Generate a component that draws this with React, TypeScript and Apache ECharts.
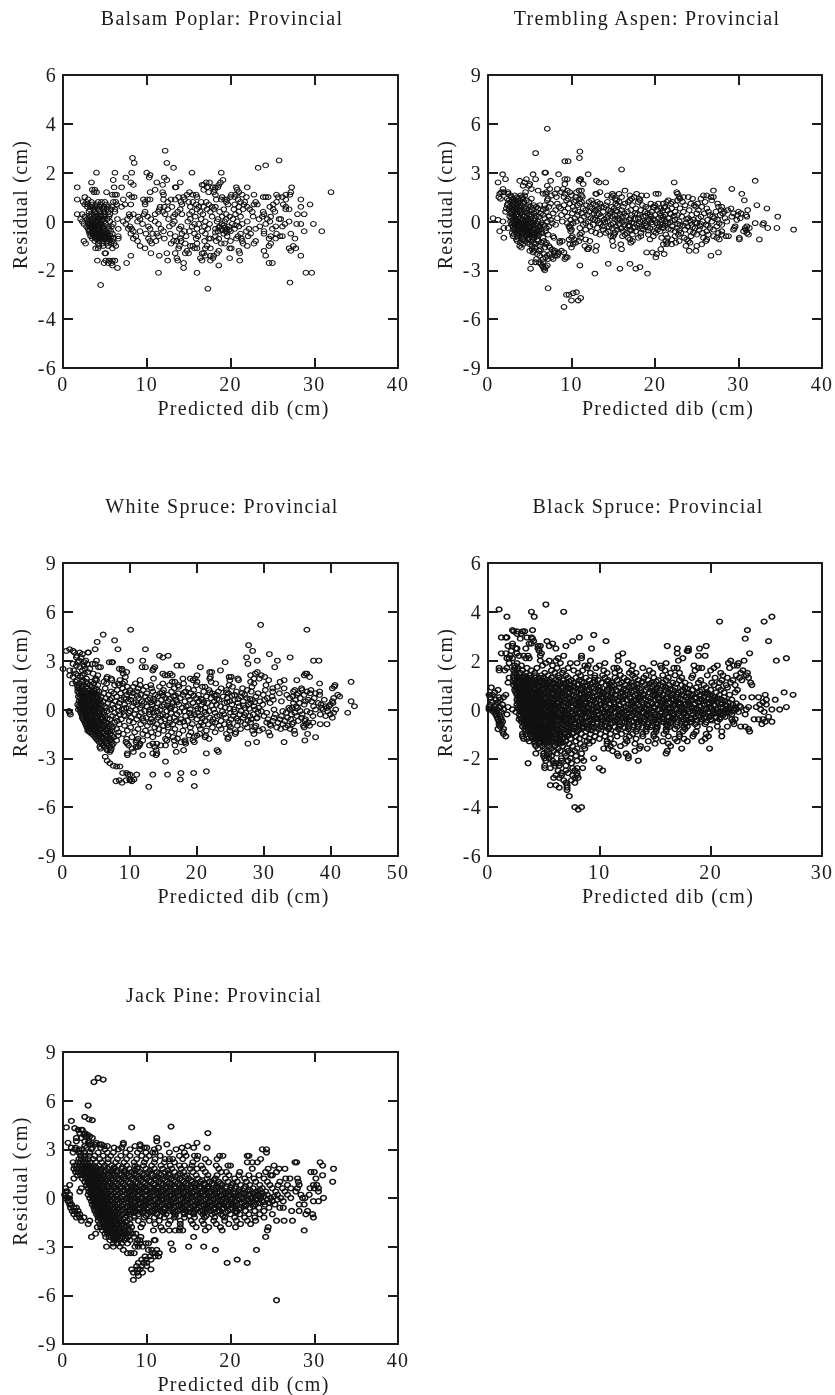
import React, { useEffect, useRef } from "react";
import * as echarts from "echarts";

// Each row: [residual, predicted dib, predicted dib, ...]
const balsamPoplarRows = [
[2.9,12.2],[2.6,8.3],[2.5,25.8],[2.4,8.5,12.4],[2.3,24.2],[2.2,13.2,23.3],
[2,4,6.2,8.2,10,15.4,18.9],[1.9,10.4],[1.8,7.5,10.3,12.1],[1.7,12.4,19.1,6],
[1.6,3.4,8.1,11.2,14,17.1,17.5,18.8],[1.5,11.9,16.8,18.6,16.6,8.4],
[1.4,1.7,6.1,7,13.4,17.2,17.9,18.2,22,20.7,27.3,18.5,13.5],[1.3,3.5,11,16.8,20.8,3.8,18.1],
[1.2,3.7,4,5.2,10.4,15.1,17.4,18,21,27.2,11.9,32],[1.1,5.9,6.2,6.4,7.9,12,14.8,15.5,15.9,18.2,20.1,20.6,21.4,22.8,26.6,25.5,27.1],
[1,2.6,8.2,8.5,13.8,14.4,16,19,20.5,24.2,24.5,25.7,26.2,21.9,23.9,20],
[.9,1.7,3,7.2,9.6,10.1,10.4,12,12.9,13.4,14.5,18.3,18.9,19.3,20.9,28.4,26.6,19.6],
[.8,2.4,2.8,3.4,4.2,4.6,5,6,6.3,9.8,12.5,14.1,15,15.5,16.5,17.1,19.5,21.2,23,25.5,21.7],
[.7,2.6,3,3.5,4,4.5,5.2,6.4,7.4,8.1,9.8,14.2,15.9,17.4,19.7,20.5,21.6,22.8,23.2,25.1,26.3,29.5],
[.6,2.9,3.3,3.9,4.4,4.9,5.4,5.9,7,11.6,12.1,13,15.2,16.2,16.8,17.8,18.2,21,22,24.7,28.4,26.6],
[.5,3.2,3.7,4.2,4.8,5.2,5.7,6.2,11.5,12.5,14,16,17.2,18,19.2,20.4,21.5,22.3,25.1,26.6,27],
[.4,3.1,3.8,4.4,4.9,5.4,6.2,9.8,11.4,11.9,13.7,15.4,16.4,17.6,18.7,21,22.6,25.3,23.9],
[.3,1.7,2.3,3.4,4,4.5,5,5.6,7.9,8.4,9.7,11,12.2,14.2,15.1,16.7,19.5,20.6,24,28.8,28,13.4],
[.2,2.6,3.3,3.9,4.5,5,5.5,8,9,10.1,13.2,15.8,17.8,19,19.9,21.2,23.8,24.8,22.7],
[.1,2.1,2.9,3.4,3.8,4.3,4.8,5.3,6.5,7.7,9.2,10.5,12.6,15.2,16.5,18.5,19.5,20.3,23.4,24.4,25.8,26],
[0,2.3,3,3.5,4,4.5,4.9,5.6,7.2,8.9,11,13.3,14.9,17,18.4,19.3,20.8,22,24.7,27],
[-.1,2.5,3.2,3.7,4.2,4.6,5.1,6,7.5,9.5,11.4,13.1,15.7,16.2,17.5,19,20.2,21.4,24.2,26.5,27.9,28.4,29.9],
[-.2,2.8,3.4,3.9,4.3,4.8,5.4,5.8,8,10.2,12.7,14.1,15.4,16.9,18.7,19.8,21,23.5,25.4,26.2],
[-.3,3,3.5,4,4.4,4.9,5.5,6.6,7.8,8.2,10.4,11.7,13.9,16,17.3,18.2,18.9,19.6,20.5,22.2,23,25],
[-.4,3.1,3.6,4.1,4.6,5,5.7,8.4,9.2,12,14.5,15.1,16.6,18.5,19.4,20,21.9,24,28.8,30.9],
[-.5,3.2,3.7,4.2,4.7,5.2,5.9,8.1,9.9,10.7,11.2,12.8,14.2,15.7,17,19.2,21.2,22.4,24,25.5,27.2],
[-.6,3.3,3.9,4.4,4.9,5.4,6.6,8.7,11.4,13.4,14.7,16.1,18.2,19.6,20.9,22.1,24.8,25.9,26.2],
[-.7,3.5,4,4.5,5,5.5,6,6.6,8.4,10.2,12.1,14,15.9,17.4,17.6,18.6,20.7,21.3,25.4,24.6,27.7],
[-.8,2.5,3.8,4.3,4.8,5.3,5.9,8.9,10.4,11.1,13.2,14.1,16.9,18.3,20,21.4,23,13.6],
[-.9,2.7,4.2,4.7,5.2,5.7,6.1,10.6,12.9,14.6,16,18.9,19.3,21.5,22.8,24.8],
[-1,4.3,4.8,5.4,6.3,9.2,15.5,15.2,22,13.9,24.6,27.5,17.2],
[-1.1,3.9,4.2,5.9,9.8,13.8,15.7,17,17.6,19.9,27,27.8,20.1,16],
[-1.2,14.8,18.6,21,24,27.2],[-1.3,5,10.5,12.4,13.4,14.6,15,16.6,16.8,18.4,21.1,5.1],
[-1.4,8.1,11.5,17,17.6,24.2,28.4,18],[-1.5,13.6,17.9,16.4,19.9],[-1.6,4.1,5.9,6.2,5.1,5.5,12.5,16.6,17.6,21.1,13.7],
[-1.7,4.9,5.4,5.8,7.6,24.6,25,14.4],[-1.8,5.9,18.6],[-1.9,6.5,14.4],[-2.1,11.4,16,29,29.7],[-2.5,27.1],[-2.6,4.5],[-2.75,17.3],
[.55,3.6,4.1,4.7],[.25,3.1,3.7,4.2,4.7],[.05,3.2,3.6,4.1,4.6],[-.05,3,3.4,3.9,4.4],[-.15,3.1,3.6,4.1,4.5,19.2,20.6],[-.25,3.3,3.8,4.2,4.7,18.6,19.3],[-.35,3.2,3.7,4.2,4.8,19,19.8],[-.45,3.4,3.9,4.4,4.9,5.3,18.2,19.6],[-.55,3.6,4.1,4.6,5.1,5.6],[-.65,3.8,4.3,4.7,5.2,5.7],[-.75,4.1,4.6,5.1,5.6],
];

const tremblingAspenRows = [
[5.7,7.1],[4.3,11],[4.2,5.7],[3.9,10.95],[3.7,9.2,9.6],[3.2,16],[3,6.8,6.9],[2.9,1.75,5.4,8.45,12],
[2.6,2.1,4.6,5.7,9.2,9.5,11,11.1],[2.5,3.8,7.5,13,10.9,32],[2.4,1.2,13.3,14.1,4.4,22.3],[2.3,5,9.2,11.4],[2.2,4.2,4.9,7.1],
[2,5.2,1.8,7.4,9,8.3,29.2],[1.9,6,9.5,11.2,10.9,16.4,27],[1.8,1.9,2.4,4.5,7,8.8,10.6,13.4,9.8,22.6,1.6],
[1.7,1.4,2.4,6.6,6.9,8,9.2,12.9,14.9,15.7,17.8,20.1,20.4,22.7,30.4,13],
[1.6,2.7,3.2,3.9,4.4,7.6,10,11.2,15,17,18.4,25.8,26.2,14.3,19],
[1.5,1.3,2.8,3.5,4.1,8.2,9.1,10.5,11.3,14.8,16,17.5,22.9,23.4,24,27,26.7],
[1.4,1.5,2.3,3,3.6,4.2,5.2,7.2,9.6,11,15.2,17.2,18.1,23,24.5,25.5],
[1.3,2.5,2.9,3.3,3.8,4.6,7.1,9.4,10.5,12.4,15.4,17,18.2,21.6,22.7,26.8,30.7],
[1.2,2.7,3.1,3.6,4.3,4.9,10.3,11.2,12.1,13.1,14.3,15.7,16.8,18,21.4,22.1,23.3,26],
[1.1,2.4,3.3,3.8,4.2,7.5,8.3,9.8,11,12.6,13.4,15.3,16.4,19.5,20.4,21,21.9,24.3,25.1,27.5],
[1,2.3,3,3.5,4,4.8,5.5,6.2,6.8,9.1,10.7,11.8,12.9,14.1,15.5,17.3,18.5,20,22.5,23.6,24.7,32.2],
[.9,2.6,3.1,3.7,4.4,5.1,5.8,7.3,8.5,10.2,12.2,13.6,14.8,16.2,18.9,19.8,21.2,24.9,25.6,27.6,28],
[.8,2.2,2.9,3.4,4.6,6,6.9,8.7,9.6,11.4,12.5,13.2,15.1,17.7,19.2,20.7,22,23,26.2,29.1,33.4],
[.7,2.5,3,3.8,4.3,5.3,6.6,8.1,10.4,11.7,12.9,14.4,16,17.1,18.3,20.3,21.5,24.1,25.2,27.9,28.7,31.1],
[.6,2.1,2.8,3.5,4,5,5.8,7,9.2,10.8,12.1,13.8,15.5,16.7,18.8,19.6,22.4,23.4,26.4,27.3,28.3,30],
[.5,2.7,3.2,3.9,4.7,5.5,6.3,7.8,10.1,11.2,12.7,14.6,16.3,17.6,19.1,20.6,21.8,25,25.9,28.1,29.4,30.3],
[.4,2.9,3.4,4.1,4.9,6.6,8.8,10.7,11.9,13.1,15.2,17.2,18.2,20,21.2,22.7,24.4,26.6,27.8,29.9,30.9],
[.3,2.6,3.1,3.6,4.4,5.2,6.1,7.3,9.5,11.5,13.5,14.9,16.1,18.6,19.5,21,23.2,25.5,26.9,29.2,34.7,31],
[.2,.6,2.8,3.3,3.9,4.6,5.7,6.8,8.3,10.4,12.3,14.2,15.6,17.1,18,20.4,21.6,24,25.2,27.1,28.4,30.2],
[.1,1.2,3,3.5,4.2,4.8,5.4,7.5,9.9,11.1,12.8,13.9,15.8,16.9,19.3,20.8,22.4,24.6,26.3,27.5,29.8],
[0,1.8,2.7,3.2,3.7,4.4,5,6,7.1,8.9,10.6,12,14.3,16.5,18.2,19,21.3,22.9,25.7,26.8,28.6],
[-.1,2.9,3.4,4,4.5,5.3,6.4,7.7,9.5,10.2,11.7,13.3,15,17.5,18.8,20.2,21.5,23.7,25,27.7,32,33],
[-.2,2.8,3.3,3.8,4.3,4.9,5.6,6.6,8.1,9.9,11.4,12.6,14.7,16.4,17.8,19.7,20.9,23,24.4,26.1,28,32.9],
[-.3,3,3.5,4.1,4.7,5.2,6.2,7.3,9.7,12.2,13.7,15.3,16.8,18.4,20.5,22.1,23.9,25.4,27.4,29.6,31],
[-.4,1.9,2.4,3.2,3.7,4.4,5,5.8,7,9.8,11,13.1,14.9,16,17.4,19.4,21,22.6,24.8,26.6,29.5,30.8,31.3,33.5,34.6],
[-.5,3.1,3.6,4.2,4.8,5.4,6.3,10,11.7,13.8,15.5,17,18.6,20.3,21.9,23.6,25.3,27,29.4,30.9,36.6],
[-.6,1.4,3.3,3.9,4.5,5.1,5.9,6.9,9.9,12.4,14.4,16.2,17.7,19.9,20.6,22.4,24.2,26.2,28,30.6],
[-.7,2.9,3.5,4.1,4.7,5.5,6.5,11.2,12.9,14.1,15.2,16.6,18.3,20.1,23.1,24.6,25.7,27.6,31],
[-.8,3.1,3.7,4.3,4.9,5.6,6.1,7.2,11,13.4,15.1,16.4,17.3,19.2,21.3,22.8,25,26.4,28,31.2],
[-.9,3,3.5,4,4.6,5.2,5.8,7.8,10.1,14.7,16.1,18.3,19.8,22.4,24.3,27,28.5,28.8,15],
[-1,1.9,3.6,4.2,4.9,5.5,6.6,7.9,10,11.1,16.8,18,20.8,21.5,23.5,25.8,27.4,30.1],
[-1.1,3.4,4.1,4.8,5.4,5.9,9.7,10.3,11.7,17,19.4,22,23.8,26.2,27.7,32.5,30.1],
[-1.2,3.5,4.4,5.2,6,6.7,8.9,10.9,12.2,14.9,17.3,21.3,22.9,24,26.1,8.6],
[-1.3,3.9,4.7,5.5,6.4,7,8.6,10.5,17.1,21.5,24.2,22.5],[-1.4,4.2,5,5.7,6.9,9.8,10.2,15.9,22,25.6,21.4,21],
[-1.5,3.8,5.3,6.2,7.3,11.6,15,13,25,23.7],[-1.6,4,5.6,6.8,7.4,10,12.1],[-1.7,5.3,6.3,7.7,11.9,16,12,20.7],
[-1.8,5,5.5,6.1,8,8.8,12.9,24.1,24.9],[-1.9,5.4,7.9,9.1,19,19.7,27.6,8.4],[-2,5.9,6.7,7.4,8.4,21.1,20.2],
[-2.1,6.2,7.1,8,8.3,26.7],[-2.2,6.9,7.6,9.3,9.5,20.1],[-2.3,5.8,6.6,7.2,7.8,9.2],[-2.5,5.2,5.7,6.1,6.6],[-2.6,6.3,14.4,17],
[-2.7,7.1,6.5,11],[-2.8,6.6,6.9,18.2],[-2.9,5.1,6.7,15.8,17.7],[-3,6.8],[-3.2,12.8,19.1],[-4.1,7.2],
[-4.35,10.6],[-4.4,10.2],[-4.5,9.4,9.7],[-4.7,11.1],[-4.85,10,10.8],[-5.25,9.1],
[.85,3.3,5.4,13.9,19.9,21.1],[.65,3.7,4.6,12.8,14.7,15.3,20.9],[.45,3.5,5.1,13.3,15.8,17.9,19.4,21.9],[.35,4.3,5.8,14.4,16.5,18.9,20.7,22.3],[.15,3.4,5.1,12.6,15.2,17.6,19.8,21.1,23.8],[.05,3.9,4.8,5.6,13.1,15.5,18.6,20,22.1,24.2],[-.05,3.6,4.2,5.2,14,16.1,17.2,19.6,21.8,24.8],[-.15,3.2,4.7,5.9,13.5,15.7,18.1,20.6,22.7,25.5],[-.25,3.9,4.4,5.4,6.8,16.9,18.9,21.2,23.4,26.3],[-.35,3.5,4.9,6,14.5,17.6,19.1,20.9,24.5],[-.45,4.2,4.6,5.6,15.9,18.4,21.6],[-.55,3.6,4.9,6.1,17.2,19.2,22.9],[-.65,3.8,4.4,5.3,6.4],[-.75,4,5,5.9],[-.85,4.7,5.4],
];

const whiteSpruceRows = [
[5.2,29.5],[4.9,10.1,36.4],[4.6,6],[4.25,7.7],[4.15,5.1],[3.95,27.7],[3.7,1,4.8,8.2,12.3],[3.6,.5,1.5,28.3],[3.5,3.7,3.8,2.5,1.7],[3.4,30.8,2.9],
[3.3,14.4,15.7,2.1],[3.2,2.7,14.9,27.4,33.9,2],[3,3.4,5,10.1,11.9,29,32,37.4,38.2,2.4],[2.9,3.2,6.9,7.3,7.4,2.2,24.2],[2.8,1.5,27.6,3.6,4.8,4.4],
[2.7,17,17.7,3.1,2],[2.6,2.5,5.3,5.6,11.8,12.3,13.7,20.5,31.6],[2.5,8.4,8.8,13.5,3.3,4,0],[2.4,1,2.9,8.8,13.4,23.5,1.6],[2.3,3.7,9.5,21.9,22.2,29],[2.2,4.5,1.9,3.2,9,16,14.9,28.7,36.2,36.4],
[2.1,1,2.2,15.2,15.6,16.3,20,28,36,2.9,5.2,29.6],[2,1.5,2.6,9.3,24.8,25.1,36.8,6.6,22,30.1],[1.9,3.5,4.9,6.5,13.5,17.9,19,19.7,21.9,26.1,28.5,29.3,7.2],
[1.8,2.1,3,4.8,5,7.3,8.5,11.5,19.4,24.9,30.7,34.9,26.2,33],[1.7,1.9,2.9,3.4,4.2,6.1,9.2,16.3,22.1,28,32.4,43,16.7,20],
[1.6,1.4,2.4,3.7,4.6,6.5,8.2,10.8,14.9,18,22.8,28.5,38.3,8.9],[1.5,2.1,3.1,4,5.2,7.7,8.4,11.5,13.1,15.9,19.9,24.8,30.3,40.6,17.2],
[1.4,2.3,2.8,3.5,4.3,9.6,10.5,12.4,14.4,17.3,20.8,25.3,32,40.5,21.2,28.2],[1.3,2.2,2.9,3.7,4.9,6.3,8.9,11.2,13.2,16.6,18.7,23.6,26.8,31.3,35.6,40.2,33],
[1.2,2.5,3.2,4,4.6,5.1,8.1,10,12,15,19.5,21.8,24.4,27.5,30.2,34.6,35.7,37],
[1.1,2.2,2.7,3.4,4.4,5.4,7.2,9.3,11,13.4,16.2,18.3,21,23.2,25.9,28.1,31.3,34.4,36.4,38.3],
[1,2.4,3,3.6,4.2,4.8,6.1,7.6,8.6,10.5,12.5,14.5,17.2,19.1,22.3,24.7,26.7,29.1,32.3,35.1,36.9,37.7],
[.9,2.6,3.3,3.9,4.5,5.3,6.8,9.5,11.6,13.8,15.6,17.9,20.2,22.9,25.6,27.1,29.9,33.4,34.9,38.3,41,36],
[.8,2.3,2.9,3.5,4.1,4.9,5.7,8,10.3,12.3,14.2,16.5,18.7,21.4,23.9,26.5,28.8,31.2,34.3,41.3],
[.7,2.5,3.2,3.8,4.4,5.1,6.4,7.3,9.1,11.3,13,15.3,17.5,19.9,22.1,24.5,27.4,30.5,33.8,35.4,37.5,40.4],
[.6,2.7,3.3,3.9,4.6,5.5,7,8.7,10.1,12.7,14.7,16.9,18.9,20.8,23.3,25.6,28.3,30.1,34.7,36.6,39,31.4],
[.5,2.4,3,3.7,4.3,5,6,7.8,9.7,11.8,13.6,15.7,18.2,20.3,22.6,24.9,26.9,29.4,32.6,36.2,43,40.2,37.1],
[.4,2.6,3.2,3.9,4.7,5.6,6.7,8.4,10.6,12.1,14.1,16.4,19.4,21.6,24.1,26.1,28,30.9,35.3,38.1,40.3,34.4],
[.3,2.2,2.8,3.4,4.1,4.8,5.4,7.4,9.2,11.1,13.3,15.1,17.3,20.7,22.9,25.2,27.7,29.8,36,38.5,39.9],
[.2,2.4,3,3.6,4.3,5.1,6.2,8.2,10.4,12.5,14.8,16.2,18.4,19.8,23.5,26.3,28.5,34.8,37.4,39.7,43.5,39.2],
[.1,2.5,3.1,3.8,4.5,5.3,6.5,7.6,9.4,11.5,13.9,15.9,17.8,21.2,24.2,27.2,29.2,33.7,38.6,39.4,34.2,35],
[0,2.3,2.9,3.5,4.2,4.9,5.7,7.1,8.8,10.9,13,14.5,16.7,19,20.6,22.5,25.5,28.7,31.5,33.9,37.7,38.8,40.7],
[-.1,.9,2.6,3.2,3.9,4.6,5.4,6.6,8.3,10,12.2,14,15.5,18.1,21.8,23.8,26.6,29.6,32.8,35.4,39.5,36.4],
[-.2,1,2.7,3.3,4,4.7,5.5,7.7,9.8,11.7,13.5,16.1,18.9,20.1,22.7,25,27.3,30.4,33.3,34.6,36.9,42.5,40.4],
[-.3,1.1,2.8,3.4,4.1,4.8,6,8.5,10.7,12.9,14.9,17,19.6,21.4,24,26.4,28.4,31.7,34.1,35.7,38.4,39.9],
[-.4,2.9,3.5,4.2,5,6.3,7.4,9.3,11.3,13.7,15.4,18.3,20.4,23,25.4,27.9,30,32.6,34.9,37.3,39.2],
[-.5,2.9,3.6,4.4,5.2,5.9,7.9,10.2,12.4,14.2,16.6,19.2,21.9,24.3,26.9,29,31.5,33.5,35.6,40.2],
[-.6,3,3.7,4.3,5,5.8,7,8.7,11,13.2,15.2,17.6,20,22.4,25.1,28.1,30.6,32.4,34,36.2],
[-.7,3.2,3.8,4.5,5.3,6.1,8.1,9.9,12,14.6,16.9,18.6,21.2,23.6,26.1,27.6,31.3,33.1,35.1,36.1],
[-.8,3.3,4,4.7,5.5,6.4,7.7,10.5,13,15.9,17.4,20.6,22.7,24.8,28,30.4,32.1,34.4,36.6,37.3],
[-.9,3.4,4.1,4.8,5.6,6.6,8.4,11.6,14,16.4,19.3,21.7,24.1,27.2,30.9,32.8,34.2,36.3,38.4,39.4],
[-1,3.5,4.3,5,5.8,6.9,9.2,12.6,15,18.2,20.3,23.3,26,28.8,31,33.6,35.9,36.8],
[-1.1,3.6,4.4,5.2,6.1,7.4,10.1,13.7,15.7,19,22.3,25,27.5,31.9,33.2,36,28.6],
[-1.2,3.8,4.6,5.4,6.3,8,11.2,14.3,16.7,20.5,23.6,26.5,29.8,32.5,33.9],
[-1.3,3.9,4.8,5.5,6.5,7.3,9.6,12.3,15,17.9,21.4,24.9,28.3,29.3,34.5,3.7],
[-1.4,4,5,5.8,6.8,8.3,10.7,13.2,16.2,19.1,22.7,25.8,30.7],[-1.5,4.3,5.2,6,7,9,11.9,14.2,17.3,20.4,24.4,25.7,28.5,34.6,36.5],
[-1.6,4.6,5.4,6.3,7.3,8.2,12.6,15.7,18.8,21.3,30.9,20],[-1.7,4.8,5.7,6.6,7.6,10.3,13.4,16.4,24.7,37.7,19.6,21.2],
[-1.8,5,5.9,6.8,7.1,9.5,11.2,15.3,17.1,21.8,24.6],[-1.9,5.2,6.1,7,8,11,11.9,18.2,19.4,15.5,36.1,16.6],[-2,5.4,6.3,7.2,9.4,10.9,18.2,28.9,33,17.6,19.6],
[-2.1,5.8,6.5,7.5,9.6,11.5,13.4,27.6,14,18.3],[-2.2,6,6.8,7.3,9.8,11.4,12.9,14.6,15.3,16.7],[-2.3,5.5,6.2,7,10.9,11.2,13.7],[-2.4,5.6,6.5,7.2,10.3],[-2.5,6.6,7.1,13.9,18,23],
[-2.6,7,10.5,16.9,23.2],[-2.7,9.6,13.4,21.4,14],[-2.8,11.9,13.9,9.6],[-2.9,6.3],[-3.15,6.6],[-3.3,7],[-3.45,7.5],[-3.5,8,8.5],[-3.9,8.9,9.5,17.6,19.5],[-3.8,21.4],[-4,10,11,13.4,15.6,9.7],
[-4.3,10.6,10,17.5],[-4.35,8.4,9.4,10],[-4.4,7.9,10.3],[-4.5,8.8],[-4.7,19.6],[-4.75,12.8],[-3.2,15.3],
[1.05,2.8,3.7,4.5,9.9,14.8,18.1,21.9,24.4],[.85,3.1,4.2,5.1,11.1,14.9,16.8,19.5,22.6,25.2],[.65,2.9,3.6,4.9,9.4,13.5,15.9,20.6,23,26.1,27.9],[.45,3.5,4.4,5.3,10.9,13.1,17,21,24.5,28.6],[.25,3.1,3.9,4.7,5.7,11.8,15.6,18.7,22.2,26.9],[.05,3.3,4.3,5.5,9.1,13.4,16.1,20.1,24.9,27.8],[-.15,3,3.7,4.4,5.1,6.1,12.9,17.4,21.2,25.6,29.1],[-.35,3.3,3.9,4.6,5.4,9.1,14.5,19.1,23.4,27.1],[-.55,3.5,4.1,4.8,5.6,6.6,11.9,15.9,20.8,25.9,28.9],[-.75,3.6,4.3,5,5.9,13.4,18,22.3,26.5],[-.95,3.9,4.6,5.3,6.2,7.2,15.6,20.9,24.8],[-1.15,4.1,4.8,5.7,6.6],[-1.35,4.4,5.2,6.1,7],[-1.55,4.9,5.6,6.5],[-1.75,5.3,6,6.9],[-1.95,5.7,6.6],
];

const blackSpruceRows = [
[4.3,5.2],[4.1,1],[4,3.9,6.8],[3.8,1.7,4.15,25.5],[3.6,20.8,24.8],[3.25,2.2,4,23.3],[3.2,2.3,2.6,3.1,3.3],[3.1,2.6,3],[3.05,9.5],[2.95,1.2,1.6,1.7,3.5,3.9,8.2],[2.9,2.9,4,23.1],[2.8,4.1,5.3,7.6,25.2,10.6],
[2.7,2.2,3.7,3.9,5.8],[2.6,1.8,2.2,4.5,4.7,7,16.1,19.6,5.5],[2.5,2.5,2.6,4.5,6.1,9.3,17,19,3.4,18],[2.4,4.6,17.9,2.1,18],[2.3,1.2,1.6,2.6,4.8,12.1,23.5,17],[2.2,2,3.2,3.6,4.7,6.8,8.4,11.7,2.8,18.9,19.5],
[2.1,1.7,1.9,2.2,3.4,6.3,8.4,17.5,26.8,3.7],[2,4.7,5.5,6.1,9.2,11.7,23,21.8,25.9,17.1],[1.9,1.9,2.6,5.2,6.5,7.4,8,10.5,12.6,16,14.9,21.6,22.5],[1.8,2.4,3,4.9,5.8,8.7,10,13,15.5,18.5,20.6,22.1,22.4,9],
[1.7,1,1.7,2.4,2.7,3.5,4.4,6.2,7.2,8.9,9.7,11.3,11.6,13.9,15.6,16.7,17,18.9,19.2,20.3,21.7],[1.6,1,1.5,2.3,2.6,3.1,3.9,5.7,6.8,7.7,8.5,10.4,11.8,12.9,14.5,15.9,18.6,20,22.9],
[1.5,2.4,2.9,3.4,4.2,5.1,6,6.7,8.1,9.2,10.7,11.4,12.7,13.3,14.8,16.4,17.2,20.9,22.7,23.3],[1.4,2.3,2.6,3.2,3.7,4.3,4.8,5.4,6.3,7,8.3,9.6,10.3,11.9,13,14.2,15.7,16.8,18.4,19.7,21.1,22.3,23.2],
[1.3,1.9,2.3,2.6,2.9,3.2,3.5,3.8,4.2,4.6,5,5.7,6.4,7.2,7.9,8.8,9.6,10.5,11.4,12.2,13.2,14,14.9,16.2,17.4,18.3,20.4,21.5,22.6,23.4],
[1.2,2.4,2.7,3,3.4,3.7,4.1,4.4,4.8,5.2,5.6,6.1,6.7,7.5,8.2,9.1,9.9,10.8,11.6,12.5,13.5,14.4,15.3,16,17.2,19.1,21,22,22.8],
[1.1,1.8,2.4,2.8,3.1,3.5,3.9,4.3,4.7,5,5.4,5.9,6.5,7,7.7,8.6,9.4,10.2,11.1,12,12.9,13.8,14.7,15.7,16.6,17.7,18.9,20.1,20.8,21.8,23.6],
[1,2.3,2.6,3,3.3,3.6,4,4.5,4.9,5.3,5.8,6.3,6.9,7.4,8,8.9,9.7,10.6,11.3,12.3,13.1,14.1,14.9,15.5,16.3,17.4,18.1,19.4,20.3,21.4,22.2,23.7],
[.9,.3,2.5,2.8,3.1,3.4,3.8,4.2,4.6,5.1,5.5,6,6.6,7.2,7.8,8.5,9.3,10,10.9,11.8,12.6,13.4,14.3,15.2,16,16.8,17.7,18.7,19.6,20.7,21.5],
[.8,.9,2.4,2.7,3,3.3,3.7,4.1,4.5,4.9,5.4,5.9,6.4,7,7.6,8.3,9.1,9.9,10.7,11.5,12.4,13.3,14.2,15,15.9,16.6,17.5,18.4,19.2,20,20.9,22.4],
[.7,.6,2.5,2.9,3.2,3.5,3.9,4.3,4.7,5.2,5.7,6.2,6.8,7.3,8,8.7,9.5,10.3,11.2,12.1,12.9,13.7,14.5,15.4,16.2,17.1,18,18.8,19.7,20.5,21.2,22.2,26.6],
[.6,.1,.4,1.6,2.6,3,3.4,3.7,4.1,4.4,4.9,5.3,5.8,6.3,6.9,7.5,8.2,9,9.8,10.6,11.4,12.3,13.2,14,14.8,15.7,16.5,17.4,18.2,19.1,19.9,20.8,21.7,24.9,27.4],
[.5,.2,1,1.4,2.7,3,3.3,3.6,4,4.4,4.8,5.2,5.6,6.1,6.7,7.3,7.9,8.6,9.4,10.2,11,11.9,12.7,13.5,14.4,15.3,16,16.9,17.8,18.6,19.4,20.4,21.2,22.9,23.7,24.3],
[.4,.7,1.1,2.6,2.9,3.2,3.6,4,4.3,4.7,5.1,5.5,6,6.5,7.1,7.8,8.4,9.2,10,10.8,11.6,12.5,13.3,14.2,15,15.8,16.7,17.5,18.3,19.2,20.1,21,21.9,25,25.8],
[.3,.4,.9,2.7,3,3.3,3.7,4,4.4,4.8,5.2,5.7,6.2,6.8,7.4,8.1,8.8,9.6,10.4,11.3,12.1,12.9,13.8,14.6,15.5,16.3,17.2,18,18.9,19.8,20.6,21.6,24.7],
[.2,.2,.7,1.3,2.6,2.9,3.2,3.5,3.9,4.2,4.6,5,5.5,6,6.6,7.2,7.9,8.5,9.3,10.1,10.9,11.8,12.6,13.5,14.3,15.2,16,16.8,17.7,18.5,19.4,20.3,21.3,22,24.4,25],
[.1,.1,.6,1.1,1.8,2.7,3,3.4,3.8,4.1,4.5,4.9,5.4,5.9,6.4,7,7.6,8.3,9,9.8,10.6,11.5,12.4,13.2,14.1,14.9,15.8,16.6,17.4,18.3,19.1,20,20.9,21.8,22.7,23.4,26.8,24.1],
[0,.1,.4,.8,1.4,2.2,2.8,3.1,3.5,3.9,4.3,4.7,5.1,5.6,6.1,6.7,7.3,8,8.7,9.5,10.3,11.1,12,12.8,13.6,14.5,15.3,16.2,17,17.9,18.7,19.6,20.5,21.4,22.3,23.2,24.5,25.5,26.2],
[-.1,.5,.7,1.2,2.5,2.9,3.3,3.6,4,4.4,4.8,5.3,5.8,6.3,6.9,7.5,8.2,8.9,9.7,10.5,11.4,12.2,13.1,13.9,14.7,15.6,16.4,17.3,18.1,19,19.8,20.7,21.6,22.5,24.8],
[-.2,.7,1,1.7,2.8,3.2,3.5,3.9,4.2,4.6,5,5.5,6,6.6,7.1,7.8,8.5,9.3,10,10.8,11.7,12.5,13.4,14.2,15,15.9,16.7,17.6,18.4,19.3,20.2,21,21.9,23.1],
[-.3,.8,1.1,2.9,3.2,3.6,3.9,4.3,4.7,5.1,5.6,6.1,6.7,7.3,8,8.7,9.4,10.2,11,11.9,12.7,13.6,14.4,15.3,16.1,16.9,17.8,18.6,19.5,20.4,21.3,25.2],
[-.4,.9,1.2,2.8,3,3.4,3.7,4.1,4.5,4.9,5.4,5.9,6.4,7,7.6,8.4,9.1,9.9,10.7,11.6,12.4,13.3,14.1,15,15.8,16.6,17.5,18.3,19.2,20,20.8,21.9,22.2,23.9,24.3,24.7],
[-.5,1,1.3,3,3.3,3.7,4,4.4,4.8,5.3,5.8,6.3,6.9,7.5,8.2,9,9.8,10.6,11.4,12.3,13.1,14,14.8,15.7,16.5,17.4,18.2,19.1,20.6,22,25.5,24.9],
[-.6,1,1.2,3.2,3.5,3.8,4.2,4.6,5,5.5,6,6.6,7.2,7.9,8.6,9.4,10.2,11,11.8,12.7,13.5,14.4,15.2,16,16.9,17.7,18.6,19.5,22.1,24.6],
[-.7,1.1,3.1,3.4,3.7,4.1,4.5,4.9,5.4,5.9,6.4,7,7.7,8.5,9.3,10.1,10.9,11.8,12.6,13.5,14.3,15.2,16.1,17,17.9,18.8,20.6,21.5,22.7,23.1],
[-.8,.9,1.4,3.3,3.6,4,4.4,4.8,5.2,5.7,6.2,6.8,7.5,8.2,9,9.9,10.8,11.7,12.6,13.4,14.2,15.1,16,16.8,17.7,19.9,23.4],
[-.9,1.3,3.4,3.7,4.1,4.5,4.9,5.4,5.9,6.5,7.2,8,8.8,9.7,10.6,11.5,12.4,13.3,14.2,15.1,16,17.5,18.7,21,23.5],
[-1,1.4,3.4,3.8,4.2,4.6,5.1,5.6,6.2,6.9,7.6,8.4,9.2,10.1,11,12,13,13.9,14.9,15.8,17.2,19.6,18.5,3.1],
[-1.1,1.6,3.1,3.9,4.3,4.8,5.3,5.8,6.4,7.1,7.9,8.7,9.6,10.5,11.6,12.7,13.9,14.9,16.2,17.2,19.8,18.4,21],
[-1.2,3.2,3.5,4,4.5,5,5.5,6.1,6.7,7.4,8.2,9.1,10,11,12.4,13.3,15.1,16.8,19.5,17.6],[-1.3,3.7,4.2,4.7,5.2,5.8,6.4,7,7.9,8.9,9.4,10.7,12.5,14.4,15.7,17,19.2,17.9],
[-1.4,4.2,4.7,5.3,5.9,6.5,7.3,8.3,9.1,10.7,11.3,12.3,13.2,15,16.2],[-1.5,4.3,4.9,5.5,6,6.7,7.6,8.6,11.9,13.7,16.4,11],[-1.6,4.5,5.1,5.7,6.3,7.1,8,8.7,10.4,10.8,13.6,14.3,17.4,19.9],
[-1.7,5.3,5.9,6.5,7.2,7.8,11.2,16.1,13.2],[-1.8,4.3,5,5.5,6.2,6.9,7.5,8.4,11.6,12.4,16],[-1.9,5,5.3,5.7,7,7.9,11.7,12.6],[-2,5.1,5.5,6.6,7.4,9.5,12.6,8.4],
[-2.1,5.2,5.8,6.6,7.2,8,8.6,13.5],[-2.2,5.9,6.1,6.4,7.5,3.6],[-2.3,6,6.4,7,5.1],[-2.4,5.1,5.6,7.6,8,8.5,10],[-2.5,7,7.8,6.3,10.3],
[-2.6,6.6,8,7.2],[-2.7,6.1,6.6,7.6,8],[-2.8,5.9,6.4,8.1,7.8],[-2.9,7.5,6.8],[-3,7,7.8],[-3.1,5.6,6.1,7.1],[-3.2,6.4,7.1],[-3.3,7.1],[-3.55,7.3],[-4,7.8,8.4],[-4.1,8.1],
[1.15,2.6,3.2,3.8,4.6,5.5,6.3,7.3,8.4,9.6,10.7,12.6,13.9,15.1],[1.05,2.5,3.1,3.6,4.2,5.1,6,6.8,8.1,9.2,10.9,11.8,13.4,14.5,16.9],[.95,2.7,3.3,3.9,4.4,5.2,6.1,7,7.7,8.7,9.9,11.1,12.9,14.7,15.7],[.85,2.6,3.2,3.6,4.3,5,5.7,6.7,7.4,8.4,9.5,10.8,12.2,13.6,15.1,16.4,17.9],[.75,2.7,3.1,3.7,4.5,5.4,6,6.5,7.7,8.9,10.1,11.6,13.1,14.8,16,17.3,19],[.65,2.8,3.5,3.9,4.6,5.1,5.9,6.6,7.2,8.4,9.2,10.4,11.9,13.4,15.1,16.6,18,19.5],[.55,2.9,3.2,3.8,4.2,4.7,5.4,6.2,7,7.7,8.9,9.6,10.8,12.1,13.7,15,16.4,17.6,19,20.2],[.45,2.8,3.4,3.8,4.5,5,5.8,6.3,7.3,8.1,9,10.4,11.4,12.8,14.6,16.1,17.3,18.7,19.8,20.7],[.35,2.8,3.1,3.5,4.2,4.6,5.4,5.9,6.6,7.6,8.3,9.4,10.6,11.7,13.1,14.4,15.6,16.9,18.2,19.4,20.3,21.3],[.25,3,3.4,3.8,4.3,4.9,5.3,5.9,6.3,7,7.7,8.7,9.7,11,12.2,13.3,14.8,16.2,17.3,18.6,19.9,21,22.3],[.15,2.9,3.2,3.6,4,4.7,5.2,5.7,6.2,6.8,7.5,8.2,9.5,10.4,11.8,13.1,14.4,15.5,16.7,17.9,19,20.4,21.5,22.6],[.05,3,3.3,3.7,4.2,4.6,5,5.5,6,6.5,7.2,8.1,9,10.1,11.3,12.6,13.8,15,16.4,17.6,18.5,19.9,21.1,22.1],[-.05,3.1,3.4,3.8,4.2,4.6,5,5.4,6,6.6,7.1,7.9,8.8,9.9,11,12.3,13.5,14.8,15.9,17.2,18.4,19.3,20.2,21.2,22.1],[-.15,3.1,3.4,3.7,4.1,4.4,4.9,5.3,5.7,6.4,6.9,7.6,8.3,9.1,10.3,11.5,12.7,14,15.5,16.6,17.5,18.8,19.9,20.9,21.7],[-.25,3.2,3.7,4.1,4.5,4.9,5.3,5.8,6.4,7,7.6,8.4,9.5,10.6,11.8,12.9,14.3,15.4,16.7,17.9,18.9,20,21.1],[-.35,3.3,3.8,4.2,4.6,5,5.5,5.9,6.5,7.1,7.9,8.7,9.7,10.9,12.1,13.2,14.6,15.6,16.8,18.2,19.4,20.5],[-.45,3.2,3.6,3.9,4.3,4.7,5.2,5.6,6.2,6.7,7.3,8,9.2,10.3,11.4,12.6,13.7,15,16.3,17.6,18.8,20.1],[-.55,3.4,3.8,4.2,4.6,5.1,5.5,6.1,6.6,7.1,7.8,8.8,9.8,11.2,12.5,13.8,15.1,16.4,17.8],[-.65,3.6,4,4.4,4.8,5.2,5.7,6.2,6.8,7.4,8.2,9.1,10.5,11.9,13.1,14.7,16.1],[-.75,3.7,4.2,4.6,5,5.5,6,6.6,7.2,7.9,8.6,9.5,10.9,12.3,13.9,15.2],[-.85,3.8,4.3,4.7,5.1,5.6,6.2,6.7,7.3,8.1,9.3],[-.95,4,4.4,4.8,5.3,5.8,6.4,7,7.6],[-1.05,4.1,4.6,5,5.5,6,6.6,7.3],[-1.15,4.3,4.7,5.2,5.7,6.2,6.8],[-1.25,4.4,4.9,5.4,6,6.5],[-1.35,4.5,5,5.5,6.2,6.7],
[.62,8.7,10.1,11.1,12.6,13.9,15.4,17,18.4,19.7],[.42,8.6,9.7,10.6,12.1,13.6,15.3,16.6,18,19.1,20.4],[.22,8.3,9.1,10.2,11.4,12.9,14,15.6,17.1,18.1,19.7,20.9],[.02,8.5,9.3,10.7,11.7,13,14.2,15.7,17.3,18.8,20.1,21.6],[-.12,8.6,9.4,10.8,12,13.3,14.9,16,17.7,19.1,20.4,21.4],[-.32,8.9,10.1,11.2,12.4,13.9,15,16.2,17.4,18.6,19.9,20.9],[-.52,8.5,9.4,10.5,11.8,13.4,14.4,15.8,17,18.3,19.6],[-.72,8.9,10.2,11.4,13,14.6,16.3,17.6],
];

const jackPineRows = [
[7.4,4.2],[7.3,4.8],[7.15,3.7],[5.7,3],[5,2.6],[4.85,3.1],[4.8,3.5],[4.75,1],[4.4,12.9],[4.35,.4,8.2],[4.3,1.4],[4.2,1.8,2.2,2.3],[4,17.3,2.6,2],[3.9,2.5,2.9],[3.8,3.2,2.7],[3.7,11.2,3.5,2.2,1.6],[3.5,1.6,2.6,11.2,3.1],
[3.4,.6,4,7.2,16,3],[3.3,3.3,4.3,7.2,9.2,12.4,3.8,4.6],[3.2,4.9,5.3,8.6,9.2,2.6,14.9],[3.1,1,1.5,2.8,4.5,6.1,7,9.7,10,11.4,15.6,17.2,14.2,3.5],[3,1.4,1.9,2.3,3.4,5,6.6,8,9.2,10.9,13.5,23.8,24.3],
[2.8,1.2,1.9,2.5,3.2,4.2,5.3,6,7.5,8.9,9.9,11,12.7,14.5,2.1,24.3,10.7],[2.6,2.1,2.6,3.1,3.8,4.8,5.7,6.9,8,9.4,10.3,11.6,13.9,15.7,18.7,19.1,22,22.2,16.1,14.7],
[2.4,1.9,2.2,2.6,3,3.6,4.4,5.4,6.5,7.6,8.8,9.9,11,12.2,13.1,14.3,16,17,18.4,23.6,12.7],[2.2,1.2,1.8,2.1,2.5,2.9,3.3,3.9,4.6,5.4,6.3,7.3,8.5,9.7,10.9,12.1,13.3,15.5,17.4,22,22.6,23.2,27.9,27.7,30.7],
[2,1.4,1.7,2,2.4,2.8,3.2,3.7,4.3,5,5.8,6.6,7.6,8.6,9.6,10.6,11.7,12.8,13.9,15.4,16.5,18.3,19.7,20,31,25.2,14.5],
[1.8,1.3,1.6,1.9,2.3,2.7,3.1,3.5,4,4.6,5.3,6.1,7,7.9,8.9,9.9,10.9,11.9,13,14.1,15.2,16.7,18.6,22.6,24.5,25.8,26.5,32.3,16],
[1.6,1.5,1.8,2.2,2.6,3,3.4,3.9,4.4,5,5.7,6.4,7.3,8.2,9.2,10.2,11.2,12.2,13.3,14.4,15.5,17,18.9,24.2,25.5,29.6,30,19.5,21.1],
[1.4,1.7,2.1,2.5,2.9,3.3,3.7,4.2,4.8,5.5,6.2,7,7.9,8.8,9.7,10.7,11.7,12.7,13.7,14.8,15.9,17.3,18.4,19.8,21,22.2,23.4,25,31,24.8],
[1.2,1.3,2.3,2.7,3.1,3.5,4,4.5,5.1,5.8,6.5,7.3,8.2,9.1,10,11,12,13,14,15,16.1,17.2,18.2,19.4,20.5,21.7,22.8,24,26.6,27.1,28,30.2],
[1,2.6,3,3.4,3.8,4.3,4.9,5.5,6.2,7,7.8,8.7,9.6,10.5,11.4,12.4,13.4,14.4,15.4,16.4,17.5,18.6,19.7,20.8,21.9,23,24.4,25.9,28.1,32.2],
[.8,.8,2.8,3.2,3.6,4,4.6,5.2,5.9,6.6,7.4,8.3,9.2,10.1,11,12,13,14,15,16,17,18,19,20.1,21.2,22.3,23.5,24.7,25.7,26.8,28.2,29.9,30.3],
[.6,.3,2.2,3,3.4,3.8,4.2,4.8,5.4,6.1,6.9,7.7,8.6,9.5,10.4,11.3,12.3,13.3,14.3,15.3,16.3,17.3,18.3,19.4,20.5,21.6,22.7,23.8,25,26.2,27.2,28,29.5,30,30.5],
[.4,.3,.5,2,3.1,3.5,3.9,4.4,5,5.6,6.3,7.1,8,8.9,9.8,10.7,11.7,12.7,13.7,14.7,15.7,16.7,17.7,18.7,19.8,20.9,22,23.1,24.2,25.4,26.5,27.8,30.5],
[.2,.2,.8,3,3.4,3.8,4.2,4.6,5.2,5.8,6.5,7.3,8.2,9.1,10,11,12,13,14,15,16,17,18,19,20,21.1,22.2,23.3,24.4,25.6,26.8,28.4,29.4],
[0,.3,.6,3.2,3.6,4,4.4,4.9,5.5,6.1,6.8,7.6,8.5,9.4,10.3,11.3,12.3,13.3,14.3,15.3,16.3,17.3,18.3,19.3,20.3,21.4,22.5,23.6,24.8,26,27.2,28.6,31.1,28.9],
[-.2,.6,.8,3.4,3.8,4.2,4.6,5.1,5.7,6.3,7,7.8,8.7,9.6,10.5,11.5,12.5,13.5,14.5,15.5,16.5,17.5,18.5,19.5,20.5,21.6,22.7,23.8,25,26.3,29.9,30.5],
[-.4,.8,1,3.5,3.9,4.3,4.8,5.3,5.9,6.5,7.2,8.1,9,9.9,10.8,11.8,12.8,13.8,14.8,15.8,16.8,17.8,18.8,19.8,20.8,21.9,23,24.1,25.3,28.2,28.8],
[-.6,.9,1.3,1.6,3.7,4.1,4.5,5,5.5,6.1,6.7,7.4,8.3,9.2,10.2,11.2,12.2,13.2,14.2,15.2,16.2,17.2,18.2,19.2,20.2,21.2,22.3,23.4,24.6,25.9,26.3],
[-.8,1.1,1.4,1.8,3.8,4.3,4.7,5.2,5.7,6.3,6.9,7.7,8.7,9.7,10.7,11.7,12.7,13.7,14.7,15.7,16.7,17.7,18.7,19.7,20.7,21.8,22.9,24,27.3,28.2,29.2],
[-1,1.3,1.7,2,4,4.5,4.9,5.4,5.9,6.5,7.1,8,9,10.1,11.2,12.3,13.4,14.5,15.6,16.7,17.8,18.9,20,21.1,22.2,23.5,25,29,29.8],
[-1.2,1.6,2,2.5,4.2,4.7,5.1,5.6,6.1,6.7,7.4,8.5,9.7,10.9,12.1,13.3,14.5,15.7,16.9,18.1,19.3,20.5,21.7,22.9,24,29.9],
[-1.4,2.2,3.2,4.2,4.8,5.3,5.8,6.3,6.9,7.7,9,10.3,11.5,12.8,14,15.3,16.6,18,19.3,20.7,22,23,25.5,26.4,27.4],
[-1.6,3,4.4,5,5.5,6,6.5,7.1,8,9.5,11,12.6,14,15.5,16.8,18.3,19.8,21.2,22.4],[-1.8,4.1,4.5,5,5.6,6.1,6.7,7.3,8.2,9.3,11.7,14,15.9,17.4,18.8,20.6,24.5],
[-2,4.7,5.2,5.7,6.2,6.8,7.4,8,10.8,11.9,12.7,13.4,13.9,14.3,17,19,24.4,28.8],[-2.2,3.9,5,5.4,5.9,6.4,7,7.6,8.3,8.7],[-2.4,3.4,5.1,5.5,6,6.5,7.1,7.8,8.5,9.3,24.2,15.6],
[-2.6,5.6,6.1,6.7,7.3,8,8.9,9.2,11,10.9],[-2.8,6,6.5,7,7.7,8.8,9.2,9.9,10.2,12.9],[-3,5.2,6,6.8,8.6,9,9.5,15,16.8],[-3.2,10.2,11.2,13.1,18.2,7.2,23.1,10.6],[-3.4,7.7,8.1,8.5,10.7,11,11.5],
[-3.6,9.8,10.4,11,11.4],[-3.8,9.4,9.9,10.5,20.8],[-4,9,9.6,10,19.6,22],[-4.2,8.8,9.4,10],[-4.4,8.2,8.9,9.2,10.5],[-4.6,8.4,8.9,9.5],[-4.8,9],[-5.05,8.4],[-6.3,25.5],
[1.9,2.2,2.7,3.2,3.9,4.9,6.1,7.1,8.9],[1.7,2.4,2.9,3.3,3.8,4.4,5.1,6,7.4,8.6,10.4,12.5],[1.5,2.6,3.1,3.6,4,4.6,5.3,6,6.8,7.6,8.5,9.5,10.5,11.5,12.6,14],[1.3,2.9,3.3,3.8,4.3,4.9,5.6,6.3,7.2,8,9,9.9,11.3,12.4,13.4,14.6],[1.1,3.2,3.6,4.1,4.6,5.2,5.9,6.7,7.5,8.4,9.3,10.3,11.1,12.2,13.2,14.2,15.3,16.6,18],[.9,3,3.5,3.9,4.4,5,5.7,6.4,7.2,8,8.9,9.8,10.8,11.7,12.7,13.7,14.7,15.7,16.8,17.8,18.8,20.3],[.7,3.3,3.7,4.1,4.7,5.3,6,6.8,7.6,8.4,9.3,10.3,11.3,12.3,13.3,14.3,15.3,16.3,17.3,18.4,19.5,20.6,21.8],[.5,3.4,3.8,4.2,4.6,5.1,5.8,6.5,7.3,8.2,9.1,10,11,12,13,14,15,16,17,18,19,20,21.1,22.3,23.5],[.3,3.3,3.7,4.1,4.5,4.9,5.4,6.1,6.8,7.6,8.5,9.4,10.3,11.3,12.3,13.3,14.4,15.4,16.4,17.4,18.4,19.4,20.5,21.6,22.7,23.8],[.1,3.5,3.9,4.3,4.7,5.1,5.7,6.4,7.1,8,8.9,9.8,10.7,11.7,12.7,13.7,14.7,15.7,16.7,17.7,18.7,19.7,20.7,21.8,22.9,24,25.2],[-.1,3.6,4,4.4,4.8,5.3,5.9,6.5,7.3,8.1,9,10,11,12,13,14,15,16,17,18,19,20,21,22.1,23.2,24.4,25.6],[-.3,3.7,4.1,4.5,5,5.5,6.1,6.7,7.5,8.4,9.3,10.2,11.2,12.2,13.2,14.2,15.2,16.2,17.2,18.2,19.2,20.2,21.3,22.4,23.4,24.6],[-.5,3.8,4.2,4.7,5.2,5.7,6.3,7,7.7,8.6,9.5,10.5,11.5,12.5,13.5,14.5,15.5,16.5,17.5,18.5,19.5,20.5,21.6,22.7],[-.7,3.9,4.4,4.9,5.4,5.9,6.5,7.1,8,9,10,11,12,13,14,15,16,17,18,19,20,21],[-.9,4.1,4.6,5.1,5.6,6.2,6.7,7.4,8.3,9.5,10.8,12,13.2,14.4,15.6,16.9,18.1,19.4,20.7],[-1.1,4.3,4.8,5.3,5.8,6.3,6.9,7.6,8.5,9.9,11.6,13.4,15.1,17.1,19.1],[-1.3,4.5,5,5.5,6,6.6,7.2,8],[-1.5,4.7,5.2,5.7,6.2,6.8,7.5],[-1.7,4.9,5.3,5.8,6.4,7,7.6],[-1.9,5.1,5.6,6.1,6.6,7.2,7.8],[-2.1,5.3,5.8,6.3,6.8,7.4],[-2.3,5.7,6.2,6.7,7.3,7.9],[-2.5,6,6.4,7,7.6],
[.65,8.2,9.7,11.2,12.8,14.1,15.8,17.2,18.7,20.1],[.35,7.9,9.1,10.6,11.9,13.6,15,16.6,18.1,19.7,21.2,22.9],[.15,8.4,9.9,11.4,12.9,14.4,15.9,17.4,18.9,20.4,22.1,23.6],[-.05,7.7,9.3,10.4,11.8,13.3,14.8,16.4,17.9,19.6,21.4,23],[-.25,8.6,9.9,11.4,12.9,14.6,16,17.6,18.9,20.7,22.2,24],[-.45,8.3,9.7,11.1,12.6,14.1,15.7,17.1,18.6,20.2,21.9],[-.65,8.5,9.6,11.4,12.7,14.4,15.9,17.4,19.1,20.6],[-.85,7.9,9.2,10.4,11.9,13.4,15.1,16.4,18.4],
];

const titles = ["Balsam Poplar: Provincial","Trembling Aspen: Provincial","White Spruce: Provincial","Black Spruce: Provincial","Jack Pine: Provincial"];
const rowsList = [balsamPoplarRows,tremblingAspenRows,whiteSpruceRows,blackSpruceRows,jackPineRows];
const xMaxes = [40,40,50,30,40];
const yLimits = [6,9,9,6,9];
const yIntervals = [2,3,3,2,3];
const xLabel = "Predicted dib (cm)";
const yLabel = "Residual (cm)";

const lefts = [63,488,63,488,63];
const tops = [75,75,563,563,1052];
const titleCx = [217,642,217,643,219];
const strokes = [1.05,1.1,1.25,1.5,1.5];
const INK = "#1c1c1c";
const font = "'Liberation Serif', serif";

export default function App() {
  const ref = useRef<HTMLDivElement>(null);
  useEffect(() => {
    document.body.style.margin = "0";
    const chart = echarts.init(ref.current!, undefined, { renderer: "svg" });
    const grid: any[] = [], xAxis: any[] = [], yAxis: any[] = [], series: any[] = [], title: any[] = [];
    rowsList.forEach((rows, i) => {
      grid.push({ left: lefts[i], top: tops[i], width: 335, height: 293, show: false });
      title.push({ text: titles[i], left: titleCx[i], top: tops[i] - 72, textAlign: "center",
        textStyle: { fontFamily: font, fontSize: 20, fontWeight: "normal", color: INK } });
      const line = { show: true, onZero: false, lineStyle: { color: INK, width: 2 } };
      const tick = { show: true, inside: true, length: 10, lineStyle: { color: INK, width: 2 } };
      const base = { type: "value", gridIndex: i, splitLine: { show: false }, axisLine: line, axisTick: tick };
      xAxis.push({ ...base, position: "bottom", min: 0, max: xMaxes[i], interval: 10,
        axisLabel: { show: true, margin: 6, fontFamily: font, fontSize: 20, color: INK, showMinLabel: true, showMaxLabel: true },
        name: xLabel, nameLocation: "middle", nameGap: 30,
        nameTextStyle: { fontFamily: font, fontSize: 20, color: INK, padding: [0,0,0,26] } });
      xAxis.push({ ...base, position: "top", min: 0, max: xMaxes[i], interval: 10, axisLabel: { show: false } });
      yAxis.push({ ...base, position: "left", min: -yLimits[i], max: yLimits[i], interval: yIntervals[i],
        axisLabel: { show: true, margin: 6, fontFamily: font, fontSize: 20, color: INK, showMinLabel: true, showMaxLabel: true },
        name: yLabel, nameLocation: "middle", nameGap: 33, nameRotate: 90,
        nameTextStyle: { fontFamily: font, fontSize: 20, color: INK, padding: [0,0,0,34] } });
      yAxis.push({ ...base, position: "right", min: -yLimits[i], max: yLimits[i], interval: yIntervals[i], axisLabel: { show: false } });
      series.push({ type: "scatter", xAxisIndex: i * 2, yAxisIndex: i * 2, symbol: "circle", symbolSize: [5.6, 4.8],
        itemStyle: { color: "rgba(0,0,0,0)", borderColor: "#111", borderWidth: strokes[i], opacity: 1 },
        emphasis: { disabled: true }, silent: true,
        data: (rows as number[][]).flatMap(([y, ...xs]) => xs.map((x) => [x, y])) });
    });
    chart.setOption({ animation: false, backgroundColor: "#fff", title, grid, xAxis, yAxis, series });
    return () => chart.dispose();
  }, []);
  return <div ref={ref} style={{ width: 835, height: 1395, letterSpacing: "1.3px", filter: "blur(0.35px)" }} />;
}
